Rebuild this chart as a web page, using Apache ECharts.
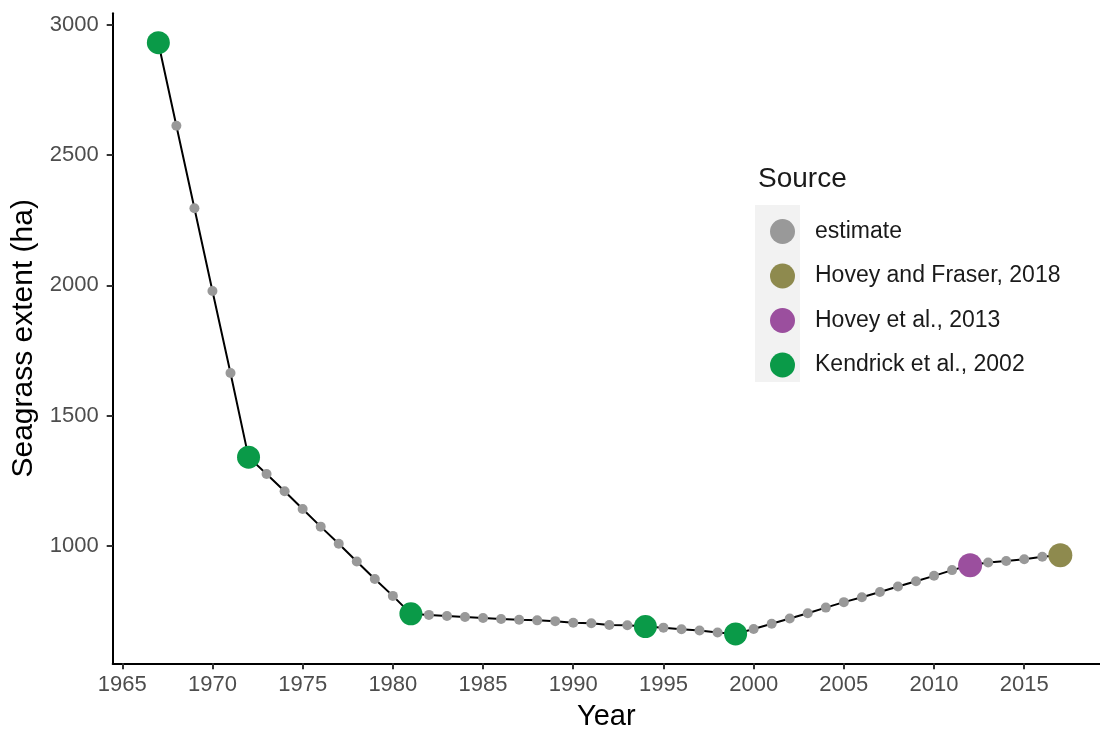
<!DOCTYPE html>
<html>
<head>
<meta charset="utf-8">
<script src="https://cdn.jsdelivr.net/npm/echarts@6/dist/echarts.min.js"></script>
<style>
html,body{margin:0;padding:0;background:#fff;}
#chart{width:1100px;height:729px;}
</style>
</head>
<body>
<div id="chart"></div>
<script>
const years = [1967,1968,1969,1970,1971,1972,1973,1974,1975,1976,1977,1978,1979,1980,1981,1982,1983,1984,1985,1986,1987,1988,1989,1990,1991,1992,1993,1994,1995,1996,1997,1998,1999,2000,2001,2002,2003,2004,2005,2006,2007,2008,2009,2010,2011,2012,2013,2014,2015,2016,2017];
const extent = [2932,2613,2296,1978,1663,1340,1275,1209,1141,1073,1007,939,872,807,738,734,730,726,722,718,715,713,710,704,702,695,694,689,685,679,674,666,661,680,700,720,740,762,783,802,822,843,863,884,906,925,935,941,948,957,963];
const sources = years.map(y => ({1967:'Kendrick et al., 2002',1972:'Kendrick et al., 2002',1981:'Kendrick et al., 2002',1994:'Kendrick et al., 2002',1999:'Kendrick et al., 2002',2012:'Hovey et al., 2013',2017:'Hovey and Fraser, 2018'})[y] || 'estimate');
const sourceNames = ['estimate','Hovey and Fraser, 2018','Hovey et al., 2013','Kendrick et al., 2002'];
const sourceColors = ['#999999','#8e8a4e','#9b4f9e','#0a9a48'];
const sourceSizes = [10,24,24,23];
const xTicks = [1965,1970,1975,1980,1985,1990,1995,2000,2005,2010,2015];
const yTicks = [1000,1500,2000,2500,3000];

const font = 'Liberation Sans, Arial, sans-serif';
const chart = echarts.init(document.getElementById('chart'), null, {renderer:'canvas'});

const scatterSeries = sourceNames.map((name, i) => ({
  name: name,
  type: 'scatter',
  symbol: 'circle',
  symbolSize: sourceSizes[i],
  itemStyle: {color: sourceColors[i], opacity: 1},
  z: 3,
  data: years.map((y, j) => sources[j] === name ? [y, extent[j]] : null).filter(d => d)
}));

chart.setOption({
  animation: false,
  backgroundColor: '#ffffff',
  textStyle: {fontFamily: font},
  title: {
    text: 'Source', left: 753, top: 160,
    textStyle: {fontFamily: font, fontSize: 28, fontWeight: 'normal', color: '#1a1a1a'}
  },
  graphic: [{
    type: 'rect', shape: {x: 755, y: 205, width: 45, height: 177},
    style: {fill: '#f2f2f2'}, z: -1
  }],
  legend: {
    orient: 'vertical', left: 765, top: 214,
    itemWidth: 25, itemHeight: 25, itemGap: 19.5,
    icon: 'circle',
    data: sourceNames,
    textStyle: {fontFamily: font, fontSize: 23, color: '#1a1a1a', padding: [0,0,0,15]}
  },
  grid: {left: 112.7, right: 0, top: 13.3, bottom: 65.7, containLabel: false, outerBoundsMode: 'none'},
  xAxis: {
    type: 'value', min: 1964.47, max: 2019.2,
    name: 'Year', nameLocation: 'middle', nameGap: 39,
    nameTextStyle: {fontFamily: font, fontSize: 29, color: '#000'},
    axisLine: {show: true, onZero: false, lineStyle: {color: '#000', width: 2}},
    axisTick: {show: true, length: 6, customValues: xTicks, lineStyle: {color: '#333', width: 2}},
    axisLabel: {customValues: xTicks, margin: 11, fontFamily: font, fontSize: 22, color: '#4d4d4d', formatter: v => String(v)},
    splitLine: {show: false}
  },
  yAxis: {
    type: 'value', min: 548, max: 3045,
    name: 'Seagrass extent (ha)', nameLocation: 'middle', nameGap: 72, nameRotate: 90,
    nameTextStyle: {fontFamily: font, fontSize: 30, color: '#000'},
    axisLine: {show: true, onZero: false, lineStyle: {color: '#000', width: 2}},
    axisTick: {show: true, length: 6, customValues: yTicks, lineStyle: {color: '#333', width: 2}},
    axisLabel: {customValues: yTicks, margin: 14, fontFamily: font, fontSize: 22, color: '#4d4d4d', formatter: v => String(v)},
    splitLine: {show: false}
  },
  series: [{
    name: 'line', type: 'line', symbol: 'none',
    lineStyle: {color: '#000', width: 2},
    z: 2,
    data: years.map((y, j) => [y, extent[j]])
  }].concat(scatterSeries)
});
</script>
</body>
</html>
